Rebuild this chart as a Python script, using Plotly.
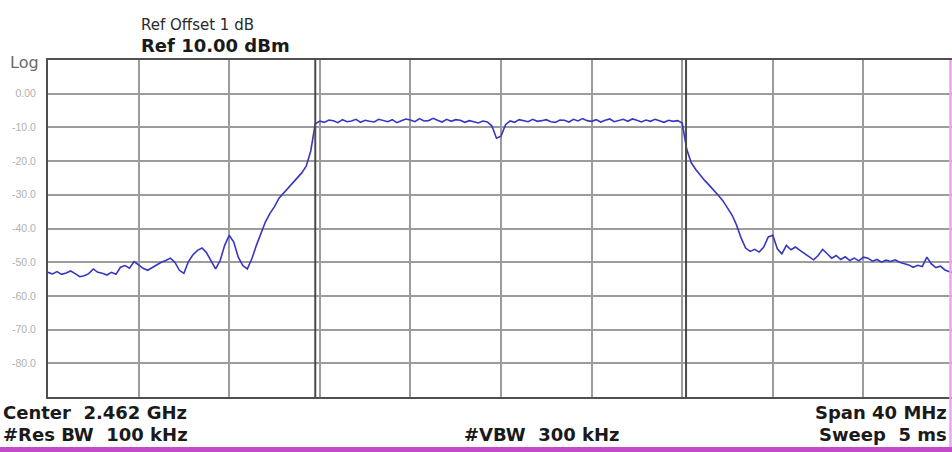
import plotly.graph_objects as go

# ---- data (sweep points, 0.2 MHz step starting at 2442 MHz) ----
freq_start_mhz = 2442.0
freq_step_mhz = 0.2

level_left = [
    -53.0, -53.5, -52.8, -53.6, -53.2, -52.6, -53.4, -54.3, -54.0, -53.4,
    -52.0, -53.0, -53.3, -53.8, -53.0, -53.6, -51.5, -51.0, -51.8, -49.8,
    -50.8, -51.8, -52.4, -51.6, -51.0, -50.0, -49.5, -48.8, -50.0, -52.4,
    -53.3, -49.8, -47.8, -46.5, -45.8, -47.2, -49.6, -52.0, -49.5, -45.0,
    -42.0, -44.0, -48.5, -51.0, -52.0, -49.0, -45.0, -41.5, -38.0, -35.5,
    -33.5, -31.0, -29.5, -28.0, -26.5, -25.0, -23.5, -21.5, -17.0,
]
level_band = [
    -8.9, -8.1, -8.5, -7.8, -8.0, -8.6, -7.7, -8.3, -8.1, -7.6,
    -8.5, -7.9, -8.2, -8.4, -7.6, -7.9, -8.3, -7.7, -8.6, -8.0,
    -7.5, -7.8, -8.3, -7.4, -8.1, -8.0, -7.3, -7.9, -8.4, -7.6,
    -8.2, -7.7, -7.9, -8.5, -8.0, -8.3, -8.7, -8.1, -8.4, -9.6,
    -13.2, -12.6, -9.2, -8.1, -8.5, -7.7, -8.0, -8.3, -7.6, -8.2,
    -8.0, -7.7, -8.3, -8.5, -7.8, -7.9, -8.4, -7.6, -8.1, -7.4,
    -8.0, -8.2, -7.7, -8.4, -7.9, -7.5, -8.3, -8.0, -7.6, -8.2,
    -7.5, -7.9, -8.4, -7.8, -8.2, -7.6, -8.1, -8.5, -7.9, -8.2,
    -8.0, -8.7,
]
level_right = [
    -16.5, -20.5, -22.5, -24.3, -25.8, -27.2, -28.6, -30.2, -31.8, -33.8,
    -36.0, -39.0, -42.8, -45.8, -46.8, -46.2, -47.0, -45.5, -42.5, -42.0,
    -46.0, -47.5, -45.0, -46.3, -45.5, -46.5, -47.5, -48.5, -49.3, -48.0,
    -46.2, -47.5, -48.8, -48.0, -49.2, -48.4, -49.5, -48.8, -49.6, -48.5,
    -48.8, -49.7, -49.2, -50.0, -49.4, -49.8, -49.3, -50.0, -50.4, -50.8,
    -51.5, -50.9, -51.3, -48.5, -50.5, -51.6, -51.2, -52.3, -52.8, -53.2,
]
level_dbm = level_left + level_band + level_right
freq_mhz = [freq_start_mhz + freq_step_mhz * i for i in range(len(level_dbm))]

marker_mhz = [2453.8, 2470.17]

y_tickvals = [0, -10, -20, -30, -40, -50, -60, -70, -80]
y_ticktext = ["0.00", "-10.0", "-20.0", "-30.0", "-40.0", "-50.0", "-60.0", "-70.0", "-80.0"]

# ---- figure ----
W, H = 952, 452
L, R, T, B = 48, 0, 60, 55
pw, ph = W - L - R, H - T - B


def px(x):
    return (x - L) / pw


def py(y):
    return (H - B - y) / ph


fig = go.Figure()
fig.add_trace(go.Scatter(
    x=freq_mhz, y=level_dbm, mode="lines",
    line=dict(color="#3636c4", width=1.6),
    hoverinfo="skip", showlegend=False,
))

shapes = []
for m in marker_mhz:
    shapes.append(dict(type="line", xref="x", yref="paper", x0=m, x1=m, y0=0, y1=1,
                       line=dict(color="#4a4a4a", width=2)))
# right edge tint and bottom magenta bar
shapes.append(dict(type="line", xref="paper", yref="paper", x0=px(950.5), x1=px(950.5),
                   y0=py(452), y1=1, line=dict(color="#e9a6ec", width=2.5)))
shapes.append(dict(type="rect", xref="paper", yref="paper", x0=px(0), x1=px(952),
                   y0=py(452), y1=py(447), line=dict(width=0), fillcolor="#c44bc8"))

FAM = "DejaVu Sans, Arial, sans-serif"
big = dict(family=FAM, size=18, color="#1a1a1a")
ann = [
    dict(text="Ref Offset 1 dB", x=px(139), y=py(25),
         font=dict(family=FAM, size=15, color="#2a2a2a")),
    dict(text="<b>Ref 10.00 dBm</b>", x=px(139), y=py(46), font=big),
    dict(text="Log", x=px(41), y=py(63), xanchor="right",
         font=dict(family=FAM, size=16, color="#6a6a6a")),
    dict(text="<b>Center\u00a0 2.462 GHz</b>", x=px(1), y=py(412), font=big),
    dict(text="<b>#Res BW\u00a0 100 kHz</b>", x=px(1), y=py(435), font=big),
    dict(text="<b>#VBW\u00a0 300 kHz</b>", x=px(462), y=py(435), font=big),
    dict(text="<b>Span 40 MHz</b>", x=px(949), y=py(412), xanchor="right", font=big),
    dict(text="<b>Sweep\u00a0 5 ms</b>", x=px(949), y=py(435), xanchor="right", font=big),
]
for a in ann:
    a.setdefault("xanchor", "left")
    a.update(xref="paper", yref="paper", yanchor="middle", showarrow=False)

fig.update_layout(
    width=W, height=H,
    margin=dict(l=L, r=R, t=T, b=B, pad=0),
    paper_bgcolor="white", plot_bgcolor="white",
    shapes=shapes, annotations=ann,
    xaxis=dict(
        range=[freq_start_mhz, freq_start_mhz + pw / 22.65],
        tick0=2442, dtick=4, showticklabels=False, ticks="",
        showgrid=True, gridcolor="#9c9c9c", gridwidth=1.5,
        showline=True, linecolor="#505050", linewidth=2, mirror=True,
        zeroline=False, fixedrange=True,
    ),
    yaxis=dict(
        range=[-90, 10],
        tickvals=y_tickvals, ticktext=y_ticktext,
        tickfont=dict(family="Liberation Sans, Arial, sans-serif", size=10.5, color="#b0b0b0"),
        ticks="", ticklabelstandoff=8,
        showgrid=True, gridcolor="#9c9c9c", gridwidth=1.5,
        showline=True, linecolor="#505050", linewidth=2, mirror=False,
        zeroline=False, fixedrange=True,
    ),
)

fig.write_html("out.html")
